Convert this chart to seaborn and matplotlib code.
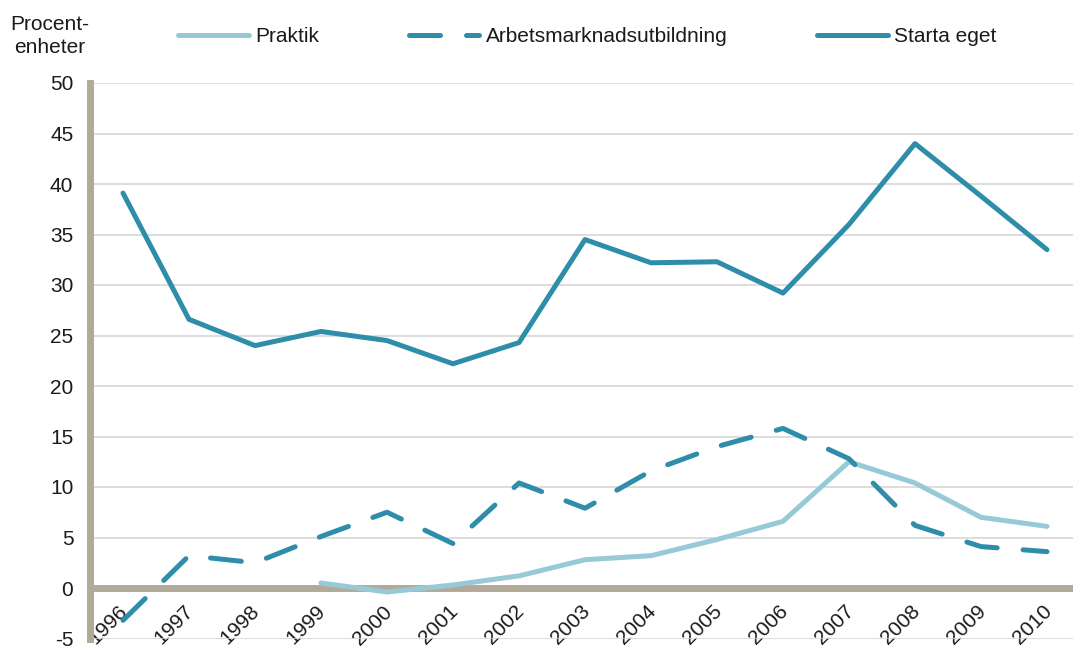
import matplotlib
matplotlib.use('Agg')
import matplotlib.pyplot as plt
import matplotlib.transforms as mtrans
import seaborn as sns
import pandas as pd

# values (procentenheter)
years = list(range(1996, 2011))
starta_eget = [39.1, 26.6, 24.0, 25.4, 24.5, 22.2, 24.3, 34.5, 32.2, 32.3, 29.2, 36.0, 44.0, 38.8, 33.5]
arbetsmarknad = [-3.2, 3.2, 2.5, 5.1, 7.5, 4.4, 10.4, 7.9, 11.6, 14.0, 15.8, 12.8, 6.2, 4.1, 3.6]
praktik_years = list(range(1999, 2011))
praktik = [0.5, -0.4, 0.3, 1.2, 2.8, 3.2, 4.8, 6.6, 12.5, 10.4, 7.0, 6.1]

y_ticks = list(range(-5, 51, 5))

sns.set_style('white')
plt.rcParams['font.family'] = ['Liberation Sans', 'DejaVu Sans']
plt.rcParams['axes.unicode_minus'] = False

SPINE = '#B3A999'
DARK = '#2E8EAA'
LIGHT = '#97CAD6'
TEXT = '#1A1A1A'
FS = 15

fig = plt.figure(figsize=(10.73, 6.48), dpi=100)
ax = fig.add_axes([90 / 1073, 9.5 / 648, 983 / 1073, 555.5 / 648])

df_p = pd.DataFrame({'year': praktik_years, 'value': praktik})
df_a = pd.DataFrame({'year': years, 'value': arbetsmarknad})
df_s = pd.DataFrame({'year': years, 'value': starta_eget})

common = dict(linewidth=3.6, solid_capstyle='round', dash_capstyle='round')
sns.lineplot(data=df_p, x='year', y='value', ax=ax, color=LIGHT, label='Praktik', **common)
sns.lineplot(data=df_a, x='year', y='value', ax=ax, color=DARK, label='Arbetsmarknadsutbildning',
             dashes=False, linestyle=(0, (6.2, 5.2)), **common)
sns.lineplot(data=df_s, x='year', y='value', ax=ax, color=DARK, label='Starta eget', **common)

# spines first (moving the bottom spine resets the ticks)
for s in ['top', 'right']:
    ax.spines[s].set_visible(False)
ax.spines['bottom'].set_position(('data', 0))
ax.spines['bottom'].set_color(SPINE)
ax.spines['bottom'].set_linewidth(5)
ax.spines['bottom'].set_zorder(1.5)
ax.spines['left'].set_color(SPINE)
ax.spines['left'].set_linewidth(5)
ax.set_xlabel('')
ax.set_ylabel('')

ax.set_xlim(1995.5, 1995.5 + 983 / 66)
ax.set_ylim(-5, 50)
ax.yaxis.grid(True, color='#D3D3D3', linewidth=1.1)
ax.xaxis.grid(False)
ax.set_axisbelow(True)

ax.tick_params(axis='x', which='major', length=0, pad=10)
ax.tick_params(axis='x', which='minor', length=6, width=4.5, color=SPINE, direction='out')
ax.tick_params(axis='y', length=6, width=4.5, color=SPINE, pad=6)

ax.set_yticks(y_ticks)
ax.set_yticklabels([str(v) for v in y_ticks], fontsize=FS, color=TEXT)

# year labels at the categories, tick marks between them
ax.set_xticks([y + 0.5 for y in years[:-1]], minor=True)
ax.set_xticks(years)
ax.set_xticklabels([str(y) for y in years], fontsize=FS, color=TEXT,
                   rotation=45, ha='right', rotation_mode='anchor')
shift = mtrans.ScaledTranslation(-5 / 100, 0, fig.dpi_scale_trans)
for lab in ax.get_xticklabels():
    lab.set_transform(lab.get_transform() + shift)

handles, labels = ax.get_legend_handles_labels()
ax.get_legend().remove()
fig.legend(handles, labels, loc='center left', bbox_to_anchor=(178 / 1073, 1 - 37 / 648),
           ncol=3, frameon=False, fontsize=FS, handlelength=3.4, handletextpad=0.3,
           columnspacing=4.3, borderpad=0, borderaxespad=0, labelcolor=TEXT)

fig.text(50 / 1073, 1 - 36 / 648, 'Procent-\nenheter', ha='center', va='center',
         fontsize=FS, color=TEXT, linespacing=1.25)

fig.savefig('out.png', dpi=100)
